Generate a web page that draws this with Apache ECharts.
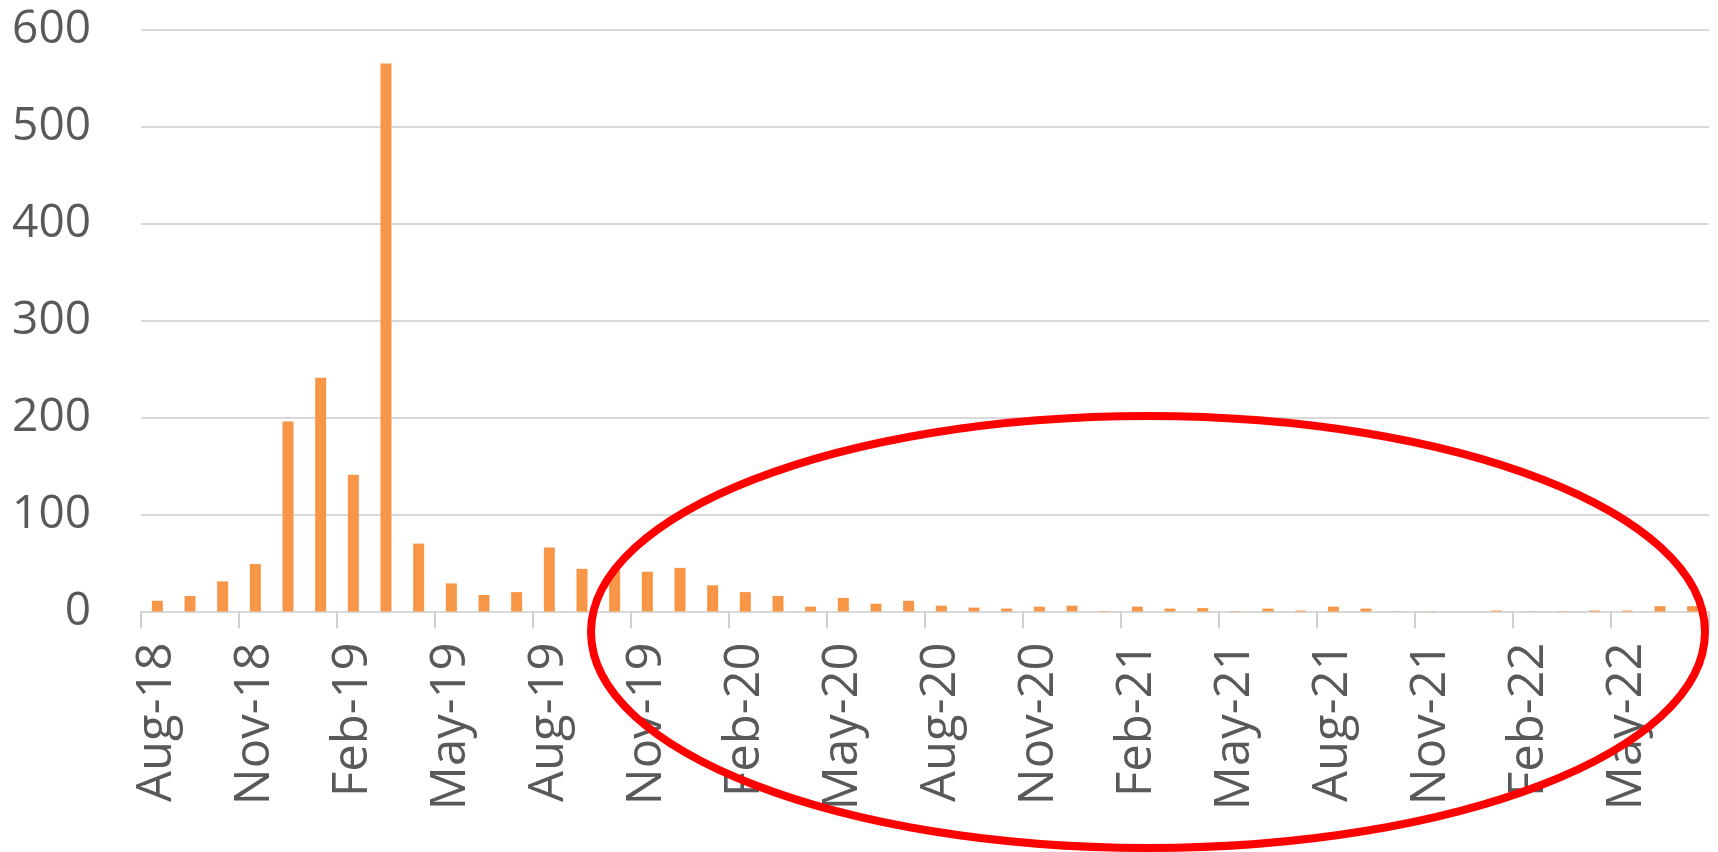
<!DOCTYPE html>
<html>
<head>
<meta charset="utf-8">
<script src="https://cdn.jsdelivr.net/npm/echarts@6/dist/echarts.min.js"></script>
<style>
  html, body { margin: 0; padding: 0; background: #fff; }
  #chart { width: 1718px; height: 852px; }
</style>
</head>
<body>
<div id="chart"></div>
<script>
const months = [
  'Aug-18', 'Sep-18', 'Oct-18', 'Nov-18', 'Dec-18', 'Jan-19', 'Feb-19', 'Mar-19',
  'Apr-19', 'May-19', 'Jun-19', 'Jul-19', 'Aug-19', 'Sep-19', 'Oct-19', 'Nov-19',
  'Dec-19', 'Jan-20', 'Feb-20', 'Mar-20', 'Apr-20', 'May-20', 'Jun-20', 'Jul-20',
  'Aug-20', 'Sep-20', 'Oct-20', 'Nov-20', 'Dec-20', 'Jan-21', 'Feb-21', 'Mar-21',
  'Apr-21', 'May-21', 'Jun-21', 'Jul-21', 'Aug-21', 'Sep-21', 'Oct-21', 'Nov-21',
  'Dec-21', 'Jan-22', 'Feb-22', 'Mar-22', 'Apr-22', 'May-22', 'Jun-22', 'Jul-22'
]
const counts = [
  11, 16, 31, 49, 196, 241, 141, 565,
  70, 29, 17, 20, 66, 44, 43, 41,
  45, 27, 20, 16, 5, 14, 8, 11,
  6, 4, 3, 5, 6, 0.5, 5, 3,
  3.5, 0.5, 3, 1, 5, 3, 0.3, 0.3,
  0, 1, 0.3, 0.3, 1, 1, 5.5, 5.5
]

const chart = echarts.init(document.getElementById('chart'))
const txt = '#595959'
const line = '#d9d9d9'

chart.setOption({
  animation: false,
  grid: { left: 141, right: 9, top: 29.5, bottom: 240.5, containLabel: false },
  xAxis: {
    type: 'category',
    data: months,
    boundaryGap: true,
    axisLine: { lineStyle: { color: line, width: 2 } },
    axisTick: { show: true, interval: 2, length: 17, lineStyle: { color: '#d0d0d0', width: 2 } },
    axisLabel: {
      interval: 2,
      rotate: 90,
      margin: 31,
      color: txt,
      fontSize: 49,
      fontFamily: 'Open Sans'
    }
  },
  yAxis: {
    type: 'value',
    min: 0,
    max: 600,
    interval: 100,
    axisLine: { show: false },
    axisTick: { show: false },
    splitLine: { lineStyle: { color: line, width: 2 } },
    axisLabel: { margin: 50, color: txt, fontSize: 46, fontFamily: 'Open Sans' }
  },
  series: [{
    type: 'bar',
    data: counts,
    barWidth: 11,
    itemStyle: { color: '#f79646' }
  }],
  graphic: [{
    type: 'ellipse',
    z: 100,
    shape: { cx: 1148, cy: 632, rx: 557, ry: 216 },
    style: { fill: 'none', stroke: '#ff0000', lineWidth: 8 }
  }]
})
</script>
</body>
</html>
